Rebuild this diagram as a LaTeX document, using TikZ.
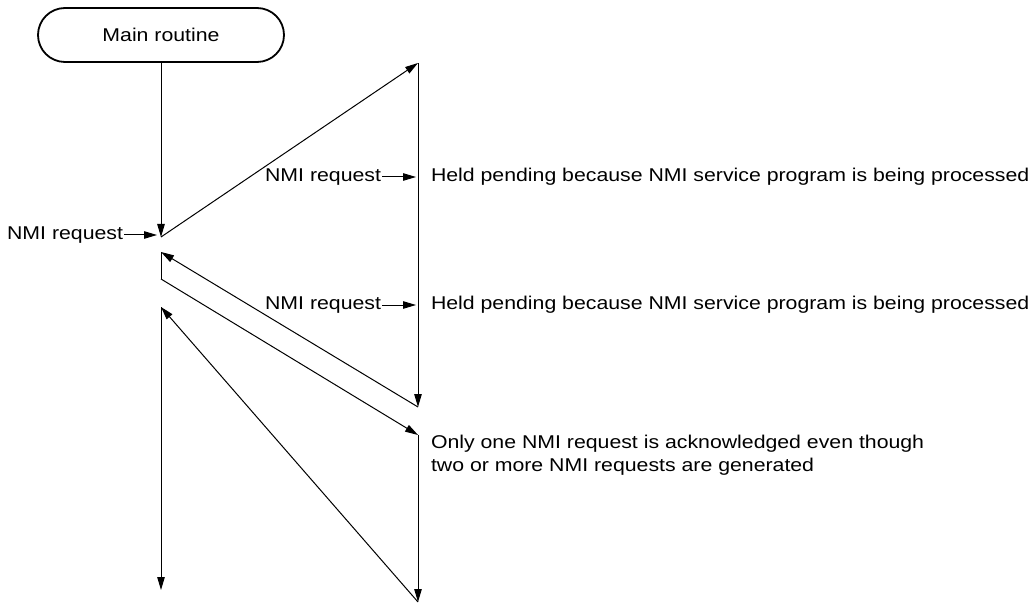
\documentclass[tikz,border=0pt]{standalone}
\usepackage{fontspec}
\setmainfont{Liberation Sans}[FakeStretch=1.15]
\usetikzlibrary{arrows.meta}
\newcommand\lbfont{\fontsize{18.5pt}{23pt}\selectfont}
\begin{document}
\begin{tikzpicture}[x=1pt,y=-1pt, line width=1pt,
  >={Triangle[length=13pt,width=7.5pt]},
  lbl/.style={inner sep=0.5pt, font=\lbfont},
  startbox/.style={draw, line width=1.8pt, rounded corners=27pt, minimum width=246pt, minimum height=54pt, inner sep=0pt, font=\lbfont}]
\useasboundingbox (0,0) rectangle (1034,604);

\node[startbox] (main) at (161,35) {Main routine};

\coordinate (a1) at (161,237);
\coordinate (s1) at (418,63);
\coordinate (e1) at (418,407);
\coordinate (r1) at (161,252);
\coordinate (a2) at (161,279);
\coordinate (s2) at (418,435);
\coordinate (e2) at (418,602);
\coordinate (r2) at (161,307);
\coordinate (fin) at (161,590);

\draw[->] (main) -- (a1);
\draw[->] (a1) -- (s1);
\draw[->] (s1) -- (e1);
\draw[->] (e1) -- (r1);
\draw (r1) -- (a2);
\draw[->] (a2) -- (s2);
\draw[->] (s2) -- (e2);
\draw[->] (e2) -- (r2);
\draw[->] (r2) -- (fin);

% NMI request labels
\node[lbl, anchor=east] (nL) at (124,235) {NMI request};
\coordinate (tL) at (157,235);
\draw[->] (nL) -- (tL);

\node[lbl, anchor=east] (nH1) at (382,177) {NMI request};
\coordinate (tH1) at (416,177);
\draw[->] (nH1) -- (tH1);
\node[lbl, anchor=west] (h1) at (430,177) {Held pending because NMI service program is being processed};

\node[lbl, anchor=east] (nH2) at (382,305) {NMI request};
\coordinate (tH2) at (416,305);
\draw[->] (nH2) -- (tH2);
\node[lbl, anchor=west] (h2) at (430,305) {Held pending because NMI service program is being processed};

\node[lbl, anchor=west, align=left] (only) at (430,455) {Only one NMI request is acknowledged even though\\two or more NMI requests are generated};
\end{tikzpicture}
\end{document}
